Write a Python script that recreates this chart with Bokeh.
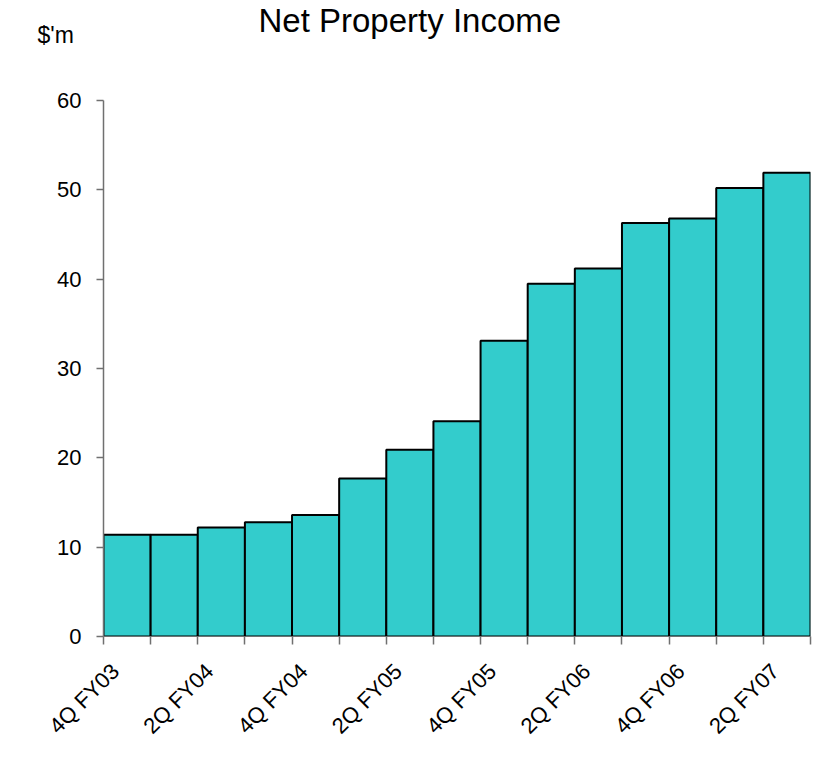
import math
from bokeh.plotting import figure
from bokeh.models import Range1d, FixedTicker, Title
from bokeh.embed import file_html
from bokeh.resources import INLINE

# ---- data ----
quarters = ["4Q FY03", "1Q FY04", "2Q FY04", "3Q FY04", "4Q FY04",
            "1Q FY05", "2Q FY05", "3Q FY05", "4Q FY05",
            "1Q FY06", "2Q FY06", "3Q FY06", "4Q FY06",
            "1Q FY07", "2Q FY07"]
income = [11.4, 11.4, 12.2, 12.8, 13.6, 17.7, 20.9, 24.1, 33.1,
          39.5, 41.2, 46.3, 46.8, 50.2, 51.9]
y_ticks = [0, 10, 20, 30, 40, 50, 60]
title_text = "Net Property Income"
unit_text = "$'m"

FONT = "Liberation Sans"

n = len(quarters)
centers = [i + 0.5 for i in range(n)]
label_idx = list(range(0, n, 2))
label_pos = [centers[i] - 0.25 for i in label_idx]
boundaries = list(range(n + 1))

p = figure(width=814, height=759, output_backend="svg", toolbar_location=None,
           x_range=Range1d(0, n), y_range=Range1d(0, 60),
           min_border_left=103, min_border_right=4,
           min_border_top=100, min_border_bottom=123)
p.outline_line_color = None
p.xgrid.visible = False
p.ygrid.visible = False
p.background_fill_color = "white"
p.border_fill_color = "white"

p.vbar(x=centers, top=income, width=1.0, bottom=0,
       fill_color="#33CCCC", line_color="black", line_width=2)

# y axis
ya = p.yaxis[0]
ya.ticker = FixedTicker(ticks=y_ticks, minor_ticks=[])
ya.axis_line_color = "#707070"
ya.axis_line_width = 1.5
ya.major_tick_line_color = "#707070"
ya.major_tick_line_width = 1.5
ya.major_tick_out = 7
ya.major_tick_in = 0
ya.minor_tick_line_color = None
ya.major_label_text_font = FONT
ya.major_label_text_font_size = "22px"
ya.major_label_text_color = "black"
ya.major_label_standoff = 15

# x axis
xa = p.xaxis[0]
xa.ticker = FixedTicker(ticks=label_pos, minor_ticks=boundaries)
xa.major_label_overrides = {pos: quarters[i] for pos, i in zip(label_pos, label_idx)}
xa.axis_line_color = "#707070"
xa.major_tick_line_color = None
xa.major_tick_out = 0
xa.major_tick_in = 0
xa.minor_tick_line_color = "#707070"
xa.minor_tick_line_width = 1.5
xa.minor_tick_out = 8
xa.minor_tick_in = 0
xa.major_label_orientation = math.pi / 4
xa.major_label_text_font = FONT
xa.major_label_text_font_size = "22px"
xa.major_label_text_color = "black"
xa.major_label_standoff = 23

# spacer between the frame and the unit label
spacer = Title(text=" ", text_font=FONT, text_font_size="10px", standoff=40)
p.add_layout(spacer, "above")

unit = Title(text=unit_text, text_font=FONT, text_font_size="23px",
             text_font_style="normal", align="left", offset=-66,
             standoff=0, text_color="black")
p.add_layout(unit, "above")

# main title
p.title.text = title_text
p.title.text_font = FONT
p.title.text_font_size = "33px"
p.title.text_font_style = "normal"
p.title.align = "left"
p.title.offset = 155
p.title.standoff = -38
p.title.text_color = "black"

open("out.html", "w").write(file_html(p, INLINE))
